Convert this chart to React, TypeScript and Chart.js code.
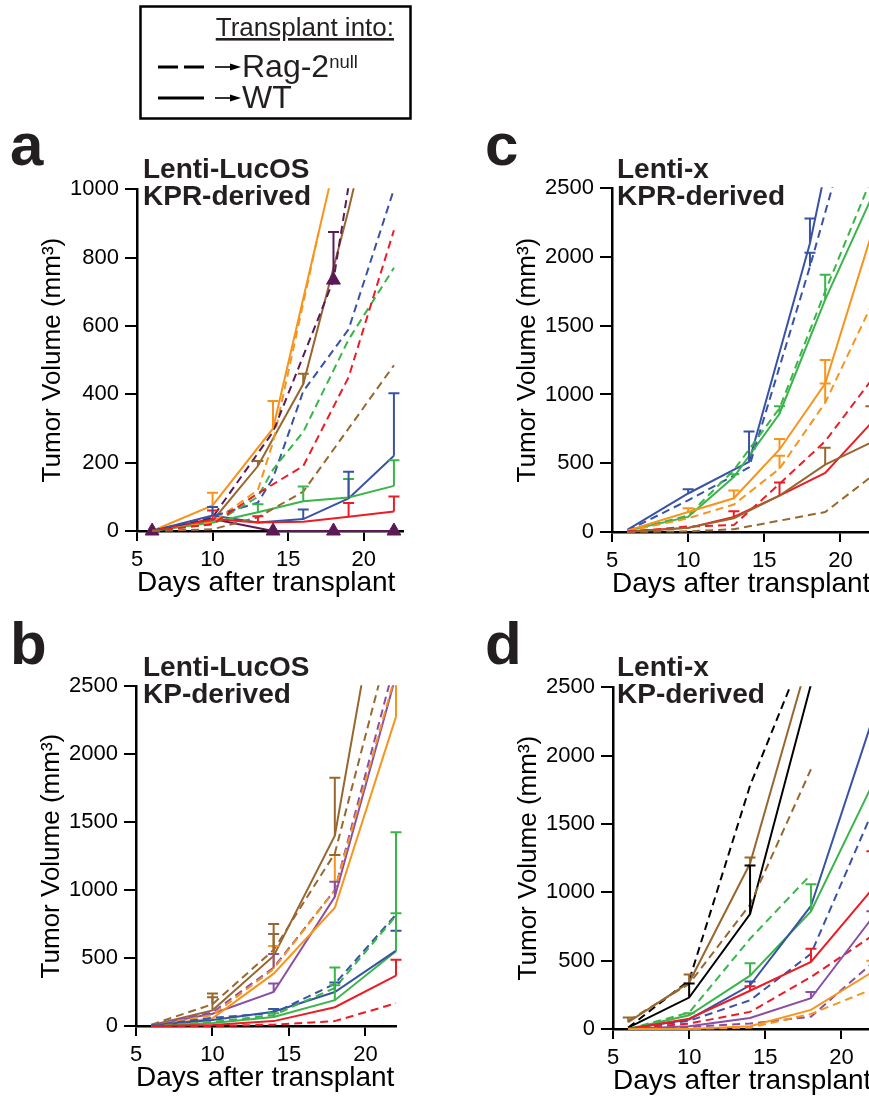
import { useEffect, useRef } from "react";
import { Chart, registerables } from "chart.js";
Chart.register(...registerables);

// ---------- tick values ----------
const X_TICKS = [5, 10, 15, 20];
const Y_TICKS_A = [0, 200, 400, 600, 800, 1000];
const Y_TICKS_2500 = [0, 500, 1000, 1500, 2000, 2500];

// ---------- Panel a: Lenti-LucOS, KPR-derived ([day, volume]) ----------
const A_ORANGE_WT = [[6, 0], [10, 75], [14, 300], [18, 1060]];
const A_ORANGE_WT_ERR = [null, 112, 380, null];
const A_ORANGE_RAG = [[6, 0], [10, 25], [13, 120], [14, 260], [17, 870]];
const A_PLUM_WT = [[6, 0], [10, 35], [14, 0], [18, 0], [22, 0]];
const A_PLUM_RAG = [[6, 0], [10, 40], [14, 290], [18, 734], [19, 1010]];
const A_PLUM_RAG_ERR = [null, null, null, 875, null];
const A_BROWN_WT = [[6, 0], [10, 30], [13, 190], [16, 430], [19, 940], [22, 1500]];
const A_BROWN_WT_ERR = [null, null, 205, 460, null, null];
const A_BROWN_RAG = [[6, 0], [10, 5], [13, 40], [16, 115], [19, 300], [22, 485]];
const A_BLUE_WT = [[6, 0], [10, 45], [13, 25], [16, 35], [19, 95], [22, 220]];
const A_BLUE_WT_ERR = [null, 70, null, 63, 173, 403];
const A_BLUE_RAG = [[6, 0], [10, 43], [13, 83], [14, 155], [16, 409], [19, 590], [22, 1000]];
const A_GREEN_WT = [[6, 0], [10, 25], [13, 55], [16, 87], [19, 98], [22, 132]];
const A_GREEN_WT_ERR = [null, null, 78, 130, 152, 207];
const A_GREEN_RAG = [[6, 0], [10, 20], [13, 100], [14, 180], [16, 290], [19, 560], [22, 770]];
const A_RED_WT = [[6, 0], [10, 35], [13, 25], [16, 27], [19, 42], [22, 57]];
const A_RED_WT_ERR = [null, 60, 43, null, 82, 101];
const A_RED_RAG = [[6, 0], [10, 20], [13, 110], [16, 190], [19, 450], [22, 880]];

// ---------- Panel c: Lenti-x, KPR-derived ----------
const C_BLUE_WT = [[6, 15], [10, 280], [14, 510], [18, 2100], [22, 4200]];
const C_BLUE_WT_ERR = [null, 310, 730, 2280, null];
const C_BLUE_RAG = [[6, 10], [10, 230], [14, 470], [18, 1930], [22, 3500]];
const C_BLUE_RAG_ERR = [null, null, null, 2030, null];
const C_GREEN_WT = [[6, 10], [10, 110], [13, 400], [16, 860], [19, 1690], [22, 2420]];
const C_GREEN_WT_ERR = [null, null, 420, 914, 1870, null];
const C_GREEN_RAG = [[6, 5], [10, 120], [13, 450], [16, 900], [19, 1750], [22, 2560]];
const C_ORANGE_WT = [[6, 10], [10, 145], [13, 245], [16, 600], [19, 1080], [22, 2150]];
const C_ORANGE_WT_ERR = [null, 173, 302, 676, 1250, null];
const C_ORANGE_RAG = [[6, 5], [10, 100], [13, 200], [16, 460], [19, 940], [22, 1640]];
const C_ORANGE_RAG_ERR = [null, null, null, 554, 1080, null];
const C_RED_WT = [[6, 5], [10, 30], [13, 110], [16, 265], [19, 430], [22, 790]];
const C_RED_WT_ERR = [null, null, 150, 360, null, null];
const C_RED_RAG = [[6, 0], [10, 40], [13, 50], [16, 350], [19, 660], [22, 1100]];
const C_BROWN_WT = [[6, 0], [10, 30], [13, 100], [16, 265], [19, 490], [22, 650]];
const C_BROWN_WT_ERR = [null, null, null, null, 612, 914];
const C_BROWN_RAG = [[6, 0], [10, 5], [13, 20], [19, 145], [22, 400]];

// ---------- Panel b: Lenti-LucOS, KP-derived ----------
const B_BROWN_WT = [[6, 5], [10, 115], [14, 515], [18, 1400], [22, 3950]];
const B_BROWN_WT_ERR = [null, 240, 750, 1826, null];
const B_BROWN_RAG = [[6, 10], [10, 160], [14, 560], [18, 1270], [22, 3000]];
const B_BROWN_RAG_ERR = [null, 211, 676, 1258, null];
const B_ORANGE_WT = [[6, 5], [10, 56], [14, 385], [18, 870], [22, 2276]];
const B_ORANGE_WT_ERR = [null, null, null, null, 2800];
const B_ORANGE_RAG = [[6, 5], [10, 80], [14, 420], [18, 1000], [22, 2600]];
const B_ORANGE_RAG_ERR = [null, null, 589, 1258, null];
const B_PURPLE_WT = [[6, 5], [10, 90], [14, 250], [18, 950], [22, 2580]];
const B_PURPLE_WT_ERR = [null, null, 312, 1062, null];
const B_PURPLE_RAG = [[6, 5], [10, 100], [14, 430], [18, 1000], [22, 2700]];
const B_PURPLE_RAG_ERR = [null, null, 530, null, null];
const B_BLUE_WT = [[6, 5], [10, 45], [14, 105], [18, 250], [22, 555]];
const B_BLUE_WT_ERR = [null, null, 125, 320, 700];
const B_BLUE_RAG = [[6, 5], [10, 60], [14, 95], [18, 310], [22, 820]];
const B_GREEN_WT = [[6, 0], [10, 22], [14, 66], [18, 190], [22, 550]];
const B_GREEN_WT_ERR = [null, null, 94, 430, 1425];
const B_GREEN_RAG = [[6, 0], [10, 30], [14, 80], [18, 280], [22, 810]];
const B_GREEN_RAG_ERR = [null, null, null, 300, 830];
const B_RED_WT = [[6, 0], [10, 8], [14, 36], [18, 138], [22, 370]];
const B_RED_WT_ERR = [null, null, null, null, 487];
const B_RED_RAG = [[6, 0], [10, 0], [14, 10], [18, 36], [22, 167]];

// ---------- Panel d: Lenti-x, KP-derived ----------
const D_BLACK_WT = [[6, 10], [10, 230], [14, 840], [18, 2520], [22, 4200]];
const D_BLACK_WT_ERR = [null, 333, 1196, null, null];
const D_BLACK_RAG = [[6, 10], [10, 355], [14, 1780], [18, 2880]];
const D_BROWN_WT = [[6, 50], [10, 340], [14, 1210], [18, 2770]];
const D_BROWN_WT_ERR = [85, 398, 1254, null];
const D_BROWN_RAG = [[6, 60], [10, 330], [14, 910], [18, 1900]];
const D_GREEN_WT = [[6, 0], [10, 100], [14, 390], [18, 860], [22, 1780]];
const D_GREEN_WT_ERR = [null, 116, 480, 1058, null];
const D_GREEN_RAG = [[6, 0], [10, 120], [14, 660], [18, 1130]];
const D_BLUE_WT = [[6, 0], [10, 70], [14, 320], [18, 900], [22, 2250]];
const D_BLUE_WT_ERR = [null, null, 348, null, null];
const D_BLUE_RAG = [[6, 0], [10, 60], [14, 210], [18, 550], [22, 1580]];
const D_RED_WT = [[6, 0], [10, 75], [14, 280], [18, 490], [22, 1020]];
const D_RED_WT_ERR = [null, null, 312, 587, 1300];
const D_RED_RAG = [[6, 0], [10, 40], [14, 125], [18, 380], [22, 680]];
const D_PURPLE_WT = [[6, 0], [10, 20], [14, 80], [18, 225], [22, 810]];
const D_PURPLE_WT_ERR = [null, null, null, 270, 862];
const D_PURPLE_RAG = [[6, 0], [10, 15], [14, 40], [18, 90], [22, 480]];
const D_ORANGE_WT = [[6, 0], [10, 0], [14, 20], [18, 140], [22, 415]];
const D_ORANGE_WT_ERR = [null, null, null, null, 500];
const D_ORANGE_RAG = [[6, 0], [10, 0], [14, 10], [18, 110], [22, 290]];

// ---------- styles ----------
const FONT = '"Liberation Sans", Arial, Helvetica, sans-serif';
const COL = {
  blue: "#3953a4",
  green: "#39b54a",
  red: "#ed1c24",
  orange: "#f7941d",
  brown: "#98672f",
  plum: "#5b1a57",
  purple: "#8a4fa3",
  black: "#000000",
};
const YW = 125;
const PT = 16;
const PR = 6;
const XH = 75;

type Spec = {
  pts: number[][];
  color: string;
  dashed: boolean;
  err?: (number | null)[];
  radius?: number | number[];
  noClip?: boolean;
};

const S = (pts: number[][], color: string, dashed: boolean, err?: (number | null)[], extra?: Partial<Spec>): Spec => ({
  pts,
  color,
  dashed,
  err,
  ...(extra || {}),
});

const SPECS_A: Spec[] = [
  S(A_BROWN_RAG, COL.brown, true),
  S(A_RED_RAG, COL.red, true),
  S(A_GREEN_RAG, COL.green, true),
  S(A_BLUE_RAG, COL.blue, true),
  S(A_PLUM_RAG, COL.plum, true, A_PLUM_RAG_ERR, { radius: [0, 0, 0, 8, 0] }),
  S(A_ORANGE_RAG, COL.orange, true),
  S(A_RED_WT, COL.red, false, A_RED_WT_ERR),
  S(A_GREEN_WT, COL.green, false, A_GREEN_WT_ERR),
  S(A_BLUE_WT, COL.blue, false, A_BLUE_WT_ERR),
  S(A_BROWN_WT, COL.brown, false, A_BROWN_WT_ERR),
  S(A_PLUM_WT, COL.plum, false, undefined, { radius: [8, 0, 8, 8, 8], noClip: true }),
  S(A_ORANGE_WT, COL.orange, false, A_ORANGE_WT_ERR),
];

const SPECS_C: Spec[] = [
  S(C_BROWN_RAG, COL.brown, true),
  S(C_BROWN_WT, COL.brown, false, C_BROWN_WT_ERR),
  S(C_RED_RAG, COL.red, true),
  S(C_RED_WT, COL.red, false, C_RED_WT_ERR),
  S(C_ORANGE_RAG, COL.orange, true, C_ORANGE_RAG_ERR),
  S(C_ORANGE_WT, COL.orange, false, C_ORANGE_WT_ERR),
  S(C_GREEN_RAG, COL.green, true),
  S(C_GREEN_WT, COL.green, false, C_GREEN_WT_ERR),
  S(C_BLUE_RAG, COL.blue, true, C_BLUE_RAG_ERR),
  S(C_BLUE_WT, COL.blue, false, C_BLUE_WT_ERR),
];

const SPECS_B: Spec[] = [
  S(B_RED_RAG, COL.red, true),
  S(B_RED_WT, COL.red, false, B_RED_WT_ERR),
  S(B_GREEN_RAG, COL.green, true, B_GREEN_RAG_ERR),
  S(B_BLUE_RAG, COL.blue, true),
  S(B_BLUE_WT, COL.blue, false, B_BLUE_WT_ERR),
  S(B_GREEN_WT, COL.green, false, B_GREEN_WT_ERR),
  S(B_ORANGE_RAG, COL.orange, true, B_ORANGE_RAG_ERR),
  S(B_ORANGE_WT, COL.orange, false, B_ORANGE_WT_ERR),
  S(B_PURPLE_RAG, COL.purple, true, B_PURPLE_RAG_ERR),
  S(B_PURPLE_WT, COL.purple, false, B_PURPLE_WT_ERR),
  S(B_BROWN_RAG, COL.brown, true, B_BROWN_RAG_ERR),
  S(B_BROWN_WT, COL.brown, false, B_BROWN_WT_ERR),
];

const SPECS_D: Spec[] = [
  S(D_ORANGE_RAG, COL.orange, true),
  S(D_ORANGE_WT, COL.orange, false, D_ORANGE_WT_ERR),
  S(D_PURPLE_RAG, COL.purple, true),
  S(D_PURPLE_WT, COL.purple, false, D_PURPLE_WT_ERR),
  S(D_RED_RAG, COL.red, true),
  S(D_RED_WT, COL.red, false, D_RED_WT_ERR),
  S(D_BLUE_RAG, COL.blue, true),
  S(D_BLUE_WT, COL.blue, false, D_BLUE_WT_ERR),
  S(D_GREEN_RAG, COL.green, true),
  S(D_GREEN_WT, COL.green, false, D_GREEN_WT_ERR),
  S(D_BROWN_RAG, COL.brown, true),
  S(D_BROWN_WT, COL.brown, false, D_BROWN_WT_ERR),
  S(D_BLACK_RAG, COL.black, true),
  S(D_BLACK_WT, COL.black, false, D_BLACK_WT_ERR),
];

// one-sided (upper) error bars with caps
const errorBars = {
  id: "errorBars",
  afterDatasetsDraw(chart: any) {
    const { ctx, chartArea, scales } = chart;
    const x = scales.x;
    const y = scales.y;
    ctx.save();
    ctx.beginPath();
    ctx.rect(chartArea.left - 10, chartArea.top - 1, chartArea.right - chartArea.left + 20, chartArea.bottom - chartArea.top + 10);
    ctx.clip();
    chart.data.datasets.forEach((ds: any) => {
      if (!ds.errTop) return;
      ctx.strokeStyle = ds.borderColor;
      ctx.lineWidth = 2;
      ctx.setLineDash([]);
      ds.errTop.forEach((topVal: number | null, j: number) => {
        if (topVal == null) return;
        const p = ds.data[j];
        const px = x.getPixelForValue(p.x);
        const py = y.getPixelForValue(p.y);
        const pt = y.getPixelForValue(topVal);
        ctx.beginPath();
        ctx.moveTo(px, py);
        ctx.lineTo(px, pt);
        ctx.moveTo(px - 5.5, pt);
        ctx.lineTo(px + 5.5, pt);
        ctx.stroke();
      });
    });
    ctx.restore();
  },
};

type PanelProps = {
  L: number;
  T: number;
  R: number;
  B: number;
  xMax: number;
  yMax: number;
  yTicks: number[];
  specs: Spec[];
};

function Panel({ L, T, R, B, xMax, yMax, yTicks, specs }: PanelProps) {
  const ref = useRef<HTMLCanvasElement>(null);
  const left = L - YW;
  const top = T - PT;
  const width = YW + (R - L) + PR;
  const height = PT + (B - T) + XH;

  useEffect(() => {
    if (!ref.current) return;
    const axisGrid = (len: number) => ({
      display: true,
      drawOnChartArea: false,
      drawTicks: true,
      tickLength: len,
      color: "#000",
      lineWidth: 2,
    });
    const chart = new Chart(ref.current, {
      type: "line",
      data: {
        datasets: specs.map((s) => ({
          data: s.pts.map(([xv, yv]) => ({ x: xv, y: yv })),
          borderColor: s.color,
          backgroundColor: s.color,
          borderWidth: 2,
          borderDash: s.dashed ? [8, 5] : [],
          pointRadius: s.radius ?? 0,
          pointHoverRadius: 0,
          pointStyle: "triangle",
          pointBorderWidth: 1,
          tension: 0,
          fill: false,
          clip: s.noClip ? false : 1,
          errTop: s.err,
        })) as any,
      },
      options: {
        animation: false,
        responsive: false,
        events: [],
        layout: { padding: { top: PT, right: PR, left: 0, bottom: 0 } },
        plugins: { legend: { display: false }, tooltip: { enabled: false } },
        scales: {
          x: {
            type: "linear",
            min: 5,
            max: xMax,
            afterBuildTicks: (sc: any) => {
              sc.ticks = X_TICKS.map((v) => ({ value: v }));
            },
            afterFit: (sc: any) => {
              sc.height = XH;
            },
            grid: axisGrid(10) as any,
            border: { display: true, color: "#000", width: 2.5 },
            ticks: {
              color: "#000",
              font: { family: FONT, size: 22 },
              padding: 6,
              maxRotation: 0,
              callback: (v: any) => String(v),
            },
            title: {
              display: true,
              text: "Days after transplant",
              color: "#000",
              align: "start",
              font: { family: FONT, size: 28 },
              padding: { top: 0, bottom: 6 },
            },
          },
          y: {
            type: "linear",
            min: 0,
            max: yMax,
            afterBuildTicks: (sc: any) => {
              sc.ticks = yTicks.map((v) => ({ value: v }));
            },
            afterFit: (sc: any) => {
              sc.width = YW;
            },
            grid: axisGrid(12) as any,
            border: { display: true, color: "#000", width: 2.5 },
            ticks: {
              color: "#000",
              font: { family: FONT, size: 22 },
              padding: 6,
              callback: (v: any) => String(v),
            },
            title: {
              display: true,
              text: "Tumor Volume (mm³)",
              color: "#000",
              font: { family: FONT, size: 26 },
              padding: { top: 25, bottom: 0 },
            },
          },
        },
      } as any,
      plugins: [errorBars],
    });
    return () => chart.destroy();
  }, []);

  return (
    <canvas
      ref={ref}
      width={width}
      height={height}
      style={{ position: "absolute", left, top, width, height }}
    />
  );
}

function Overlay() {
  const tc = "#231f20";
  return (
    <svg
      width={869}
      height={1099}
      style={{ position: "absolute", left: 0, top: 0, pointerEvents: "none" }}
      fontFamily={FONT}
    >
      {/* legend box */}
      <rect x={140.5} y={6.5} width={270} height={112} fill="none" stroke="#000" strokeWidth={2.5} />
      <text x={394} y={36} textAnchor="end" fontSize={26} fill={tc} textDecoration="underline">
        Transplant into:
      </text>
      <line x1={158} y1={67} x2={204} y2={67} stroke="#000" strokeWidth={3} strokeDasharray="20 6" />
      <line x1={215} y1={67} x2={233} y2={67} stroke="#000" strokeWidth={1.6} />
      <polygon points="230,63.5 241,67 230,70.5" fill="#000" />
      <text x={242} y={77} fontSize={32} fill={tc}>
        Rag-2
        <tspan fontSize={18.5} dy={-9}>
          null
        </tspan>
      </text>
      <line x1={158} y1={98} x2={204} y2={98} stroke="#000" strokeWidth={3} />
      <line x1={215} y1={98} x2={233} y2={98} stroke="#000" strokeWidth={1.6} />
      <polygon points="230,94.5 241,98 230,101.5" fill="#000" />
      <text x={242} y={108} fontSize={32} fill={tc}>
        WT
      </text>

      {/* panel letters */}
      <text x={10} y={165} fontSize={60} fontWeight="bold" fill={tc}>a</text>
      <text x={485} y={165} fontSize={60} fontWeight="bold" fill={tc}>c</text>
      <text x={10} y={664} fontSize={60} fontWeight="bold" fill={tc}>b</text>
      <text x={485} y={664} fontSize={60} fontWeight="bold" fill={tc}>d</text>

      {/* panel titles */}
      <g fontSize={28} fontWeight="bold" fill={tc}>
        <text x={143} y={178}>Lenti-LucOS</text>
        <text x={143} y={205}>KPR-derived</text>
        <text x={617} y={178}>Lenti-x</text>
        <text x={617} y={205}>KPR-derived</text>
        <text x={143} y={676}>Lenti-LucOS</text>
        <text x={143} y={703}>KP-derived</text>
        <text x={617} y={676}>Lenti-x</text>
        <text x={617} y={703}>KP-derived</text>
      </g>
    </svg>
  );
}

export default function App() {
  return (
    <div
      style={{
        position: "fixed",
        left: 0,
        top: 0,
        width: 869,
        height: 1099,
        overflow: "hidden",
        background: "#fff",
      }}
    >
      <Panel L={137} T={186} R={406} B={531} xMax={22.6} yMax={1000} yTicks={Y_TICKS_A} specs={SPECS_A} />
      <Panel L={612} T={185} R={880} B={532} xMax={22.6} yMax={2500} yTicks={Y_TICKS_2500} specs={SPECS_C} />
      <Panel L={136} T={683} R={396} B={1026} xMax={22} yMax={2500} yTicks={Y_TICKS_2500} specs={SPECS_B} />
      <Panel L={613} T={684} R={881} B={1029} xMax={22.6} yMax={2500} yTicks={Y_TICKS_2500} specs={SPECS_D} />
      <Overlay />
    </div>
  );
}
